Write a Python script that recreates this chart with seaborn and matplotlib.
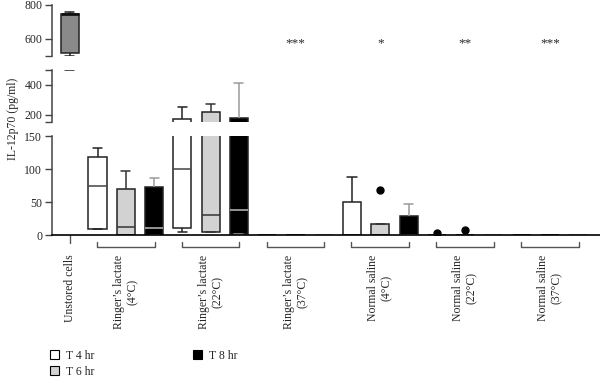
import numpy as np
import pandas as pd
import seaborn as sns
import matplotlib.pyplot as plt
from matplotlib.patches import Patch
from matplotlib.transforms import blended_transform_factory

groups = ["Ringer’s lactate\n(4°C)", "Ringer’s lactate\n(22°C)", "Ringer’s lactate\n(37°C)",
          "Normal saline\n(4°C)", "Normal saline\n(22°C)", "Normal saline\n(37°C)"]
times = ["T 4 hr", "T 6 hr", "T 8 hr"]

# min, q1, median, q3, max (plus outliers), one list per group
t4_values = [[9, 9, 75, 118, 132], [4, 11, 100, 171, 251], [0, 0, 0, 0, 0],
             [0, 0, 0, 50, 88], [0, 0, 0, 0, 3], [0, 0, 0, 0, 0]]
t6_values = [[0, 0, 12, 70, 97], [4, 4, 31, 218, 271], [0, 0, 0, 0, 0],
             [0, 0, 0, 16, 68], [0, 0, 0, 0, 7], [0, 0, 0, 0, 0]]
t8_values = [[0, 0, 11, 72, 87], [1, 1, 38, 177, 415], [0, 0, 0, 0, 0],
             [0, 0, 0, 29, 47], [0, 0, 0, 0, 0], [0, 0, 0, 0, 0]]
unstored_values = [497, 520, 745, 749, 759]
unstored_label = "Unstored cells"

star_groups = [2, 3, 4, 5]
star_labels = ["***", "*", "**", "***"]

rows = []
for t, series in zip(times, [t4_values, t6_values, t8_values]):
    for i, vals in enumerate(series):
        for v in vals:
            rows.append({"pos": i, "time": t, "value": v})
df = pd.DataFrame(rows)

unstored_pos = -0.66
unstored_df = pd.DataFrame({"pos": unstored_pos, "value": unstored_values})

sns.set_style("ticks")
plt.rcParams["font.family"] = ["Liberation Serif", "DejaVu Serif"]

fig = plt.figure(figsize=(6, 3.78), dpi=100)
ax_bot = fig.add_axes([0.0867, 0.3783, 0.9133, 0.2619])
ax_mid = fig.add_axes([0.0867, 0.6772, 0.9133, 0.1376])
ax_top = fig.add_axes([0.0867, 0.8519, 0.9133, 0.1349])

fills = {"T 4 hr": "white", "T 6 hr": "#d2d2d2", "T 8 hr": "black"}
whisk = {"T 4 hr": "#222222", "T 6 hr": "#333333", "T 8 hr": "#9a9a9a"}
medc = {"T 4 hr": "#444444", "T 6 hr": "#333333", "T 8 hr": "#bbbbbb"}
flier = dict(marker="o", markerfacecolor="black", markeredgecolor="black", markersize=5)

for ax in (ax_bot, ax_mid, ax_top):
    for t in times:
        sns.boxplot(data=df[df.time == t], x="pos", y="value", hue="time", hue_order=times,
                    palette=fills, saturation=1, native_scale=True, dodge=True,
                    width=1.0, gap=0.36,
                    linecolor="#222222", linewidth=1.1, whis=1.5, legend=False, ax=ax,
                    whiskerprops=dict(color=whisk[t]), capprops=dict(color=whisk[t]),
                    medianprops=dict(color=medc[t]), flierprops=flier)
    sns.boxplot(data=unstored_df, x="pos", y="value", native_scale=True, width=0.21,
                color="#8a8a8a", saturation=1, linecolor="#222222", linewidth=1.1,
                medianprops=dict(color="#111111", linewidth=2), ax=ax)
    ax.set_xlim(-0.87, 5.59)
    ax.set_xlabel("")
    ax.set_ylabel("")
    sns.despine(ax=ax)
    ax.spines["left"].set_color("#444444")
    ax.spines["left"].set_linewidth(1.1)
    ax.tick_params(axis="y", length=5, width=1, color="#444444", labelsize=8.5, pad=2)

ax_bot.set_ylim(0, 150)
ax_bot.set_yticks([0, 50, 100, 150])
ax_mid.set_ylim(153, 500)
ax_mid.set_yticks([153, 200, 400, 500], ["", "200", "400", ""])
ax_top.set_ylim(500, 800)
ax_top.set_yticks([500, 600, 800], ["", "600", "800"])

for ax in (ax_mid, ax_top):
    ax.spines["bottom"].set_visible(False)
    ax.set_xticks([])

ax_bot.spines["bottom"].set_color("black")
ax_bot.spines["bottom"].set_linewidth(1.2)
ax_bot.set_xticks([unstored_pos] + list(range(len(groups))), [unstored_label] + groups,
                  rotation=90, fontsize=8.5)
ax_bot.tick_params(axis="x", length=0, pad=14)

# group brackets under the axis
tr = blended_transform_factory(ax_bot.transData, ax_bot.transAxes)
for i in range(len(groups)):
    ax_bot.plot([i - 0.34, i - 0.34, i + 0.34, i + 0.34], [-0.068, -0.126, -0.126, -0.068],
                color="#555555", lw=1, transform=tr, clip_on=False)
ax_bot.plot([unstored_pos, unstored_pos], [0, -0.08], color="#555555", lw=1,
            transform=tr, clip_on=False)

# significance stars
tr_star = blended_transform_factory(ax_top.transData, fig.transFigure)
for g, s in zip(star_groups, star_labels):
    fig.text(g, 0.885, s, transform=tr_star, ha="center", va="center", fontsize=9.5)

fig.text(0.022, 0.685, "IL-12p70 (pg/ml)", rotation=90, ha="center", va="center", fontsize=8.5)

handles = [Patch(facecolor=fills[t], edgecolor="black", linewidth=0.8) for t in times]
fig.legend(handles, times, ncol=2, loc="upper left", bbox_to_anchor=(0.083, 0.075),
           frameon=False, fontsize=8.5, borderpad=0, handlelength=0.8, handleheight=0.8,
           handletextpad=0.6, labelspacing=0.35, columnspacing=8.3, borderaxespad=0)

fig.savefig("out.png", dpi=100)
